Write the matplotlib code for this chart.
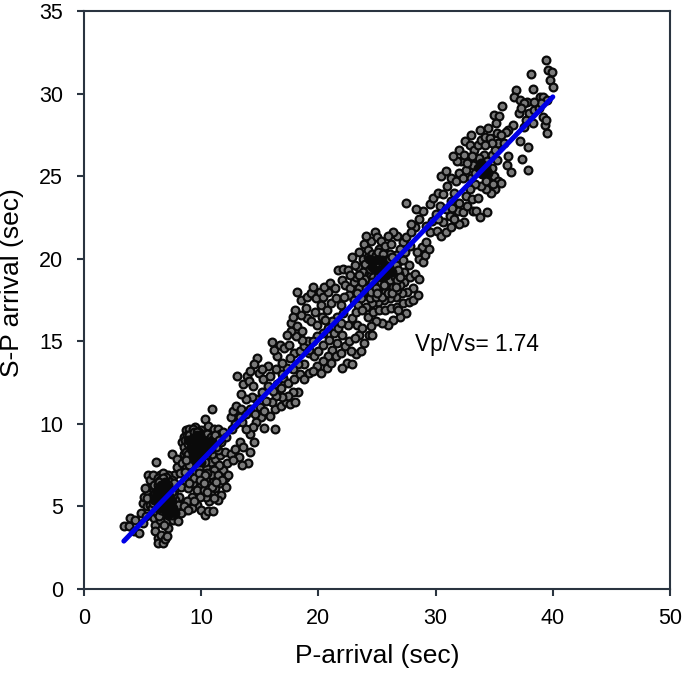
import numpy as np
import matplotlib
matplotlib.use("Agg")
import matplotlib.pyplot as plt

plt.rcParams['font.family'] = ['Liberation Sans', 'DejaVu Sans']

# points, (P-arrival, S-P arrival), split along the trend
points_a = [(3.4,3.8),(3.8,3.8),(3.9,4.3),(4.35,4.2),(4.3,3.5),(4.7,3.4),(4.9,4.6),(5.0,5.2),(5.1,5.6),(5.3,4.4),
    (5.0,4.0),(5.4,5.0),(5.5,5.9),(5.45,6.9),(5.7,6.2),(5.8,5.4),(5.9,4.8),(6.0,4.3),(6.1,3.9),(6.1,3.5),
    (6.3,3.1),(6.3,2.8),(6.6,3.3),(6.7,2.8),(6.9,3.0),(7.1,3.2),(7.2,3.7),(7.0,4.1),(6.6,4.5),(6.4,5.0),
    (6.2,5.5),(6.0,6.0),(6.1,6.5),(6.14,7.67),(6.5,6.9),(6.4,6.2),(6.6,5.8),(6.8,5.3),(7.0,4.9),(7.3,4.4),
    (7.6,4.2),(8.0,4.1),(7.9,4.9),(7.6,5.2),(7.3,5.7),(7.0,6.1),(6.8,6.6),(7.1,6.5),(7.4,6.3),(7.7,6.0),
    (8.1,5.6),(8.4,5.1),(8.6,4.8),(7.53,8.18),(7.9,7.85),(7.9,7.4),(7.7,6.9),(7.2,6.9),(5.6,5.1),(5.9,5.7),
    (6.3,5.8),(6.5,5.4),(6.2,6.1),(6.7,6.2),(6.9,5.7),(7.2,5.3),(6.4,5.6),(6.6,6.4),(6.0,5.1),(6.2,4.6),
    (6.5,4.2),(6.8,3.9),(5.2,6.1),(5.6,6.6),(5.9,6.9),(6.3,6.7),(6.7,7.0),(7.0,6.8),(7.5,6.6),(6.9,6.2),
    (7.2,6.0),(7.5,5.6),(7.8,5.4),(8.0,5.1),(8.3,4.6),(7.4,4.9),(6.9,4.6),(6.7,5.0),(6.4,4.4),(6.1,5.3),
    (5.7,5.6),(5.4,5.5),(6.6,6.0),(6.9,5.0),(7.1,5.6),(6.3,5.3),(6.5,6.6),(6.0,6.3),(7.3,5.0),(7.6,4.7)]

points_b = [(8.2,7.0),(8.4,7.6),(8.5,8.2),(8.4,8.9),(8.5,9.2),(8.7,9.6),(8.9,9.0),(9.0,9.7),(9.2,9.3),(9.3,8.7),
    (9.5,9.8),(9.7,9.4),(9.9,9.0),(10.0,9.6),(10.3,10.3),(10.95,10.88),(10.6,9.9),(10.9,9.5),(11.1,9.7),(11.4,9.7),
    (11.6,9.4),(11.9,9.5),(12.1,9.2),(11.7,8.9),(11.3,9.0),(11.0,8.8),(10.6,9.1),(10.2,8.9),(9.8,8.6),(9.4,8.3),
    (9.0,8.4),(8.8,8.0),(9.1,7.8),(9.5,7.6),(9.9,7.9),(10.3,8.3),(10.7,8.4),(9.6,9.0),(9.2,8.9),(8.8,8.6),
    (9.3,9.7),(9.9,8.3),(10.1,8.7),(10.5,8.7),(9.7,8.1),(9.1,8.2),(8.7,7.3),(9.4,7.1),(9.0,6.9),(8.6,6.6),
    (8.3,6.2),(8.9,6.1),(9.3,6.4),(9.7,6.7),(10.0,7.1),(10.4,7.4),(10.8,7.7),(11.2,7.9),(11.6,8.1),(12.0,8.3),
    (12.2,7.6),(11.9,7.2),(11.5,7.5),(11.1,7.2),(10.8,6.9),(10.4,6.6),(10.0,6.3),(9.6,6.0),(9.2,5.6),(8.8,5.3),
    (8.5,5.0),(9.6,5.1),(10.0,4.8),(10.3,4.5),(10.6,4.7),(11.0,4.7),(10.7,5.3),(10.4,5.6),(10.8,5.9),(11.2,6.1),
    (11.6,6.4),(12.0,6.7),(12.3,6.9),(11.7,5.7),(11.4,5.4),(11.1,5.5),(9.2,4.9),(9.9,5.6),(10.2,6.0),(11.0,6.5),
    (10.5,7.0),(11.4,6.9),(11.8,6.6),(12.1,6.2),(9.4,5.3),(8.9,4.8),(10.1,7.6),(9.8,7.3),(10.9,8.2),(11.4,8.4)]

points_c = [(12.5,8.2),(12.9,8.5),(13.3,8.9),(13.6,8.6),(14.0,7.65),(13.5,7.5),(13.2,8.0),(12.7,7.8),(14.2,8.3),(14.5,8.9),
    (15.4,9.75),(16.3,9.7),(15.1,10.4),(14.7,10.1),(14.4,9.8),(14.2,9.4),(13.8,9.7),(13.5,10.1),(13.3,10.4),(12.9,10.0),
    (12.6,9.7),(12.5,10.4),(12.7,10.8),(13.0,11.1),(13.4,10.9),(13.8,10.6),(14.2,10.9),(14.6,10.6),(15.0,11.0),(15.4,10.8),
    (15.9,10.5),(16.3,10.9),(16.8,11.1),(17.2,11.3),(17.6,11.2),(18.0,11.3),(18.3,11.9),(17.8,11.9),(17.4,11.7),(16.9,11.6),
    (16.4,11.7),(16.0,11.3),(15.5,11.4),(15.2,11.9),(14.7,11.5),(14.3,11.6),(13.8,11.5),(13.4,11.8),(13.03,12.9),(13.6,12.4),
    (13.9,12.9),(14.1,12.6),(14.4,12.3),(14.73,13.97),(14.5,13.6),(14.2,13.2),(14.9,13.1),(15.3,12.7),(15.7,12.3),(16.1,12.0),
    (16.5,12.4),(17.0,12.8),(17.4,12.5),(17.9,12.7),(18.4,13.0),(18.8,12.7),(19.2,13.1),(18.8,13.6),(18.3,13.6),(17.8,13.3),
    (17.3,13.4),(16.9,13.7),(16.5,14.1),(16.2,14.5),(16.0,14.96),(16.7,14.8),(17.1,14.6),(17.5,14.8),(17.9,14.3),(18.4,14.4),
    (18.8,14.7),(19.2,14.3),(19.1,15.0),(18.6,15.1),(18.1,15.3),(17.7,15.6),(17.3,15.4),(17.7,16.1),(18.2,15.9),(18.6,15.6),
    (16.9,13.0),(16.4,13.3),(15.7,13.5),(15.2,13.3),(19.0,16.4),(18.5,16.6),(18.0,16.9),(17.8,16.5),(16.8,12.2),(15.9,12.9)]

points_d = [(18.9,17.0),(18.5,17.5),(19.0,17.7),(19.4,17.9),(19.8,17.6),(20.1,18.0),(20.4,17.7),(20.8,18.0),(20.2,17.2),(19.7,16.8),
    (19.4,16.2),(19.9,16.0),(20.3,16.5),(20.7,16.9),(21.1,17.3),(21.5,17.6),(21.9,17.2),(22.1,16.7),(21.6,16.5),(21.2,16.2),
    (20.8,15.8),(20.4,15.5),(19.9,15.3),(19.5,15.0),(19.2,14.5),(19.6,14.1),(20.0,14.4),(20.4,14.8),(20.9,15.1),(21.3,15.5),
    (21.7,15.8),(22.0,15.4),(21.6,14.9),(21.2,14.5),(20.8,14.1),(20.4,13.8),(19.9,13.5),(19.5,13.2),(20.2,13.1),(20.7,13.4),
    (21.1,13.7),(21.5,14.1),(21.9,14.3),(22.3,14.7),(22.6,15.0),(22.4,13.7),(22.0,13.4),(22.9,13.6),(23.2,14.2),(23.6,14.4),
    (23.9,14.9),(24.3,15.4),(24.6,15.4),(23.5,15.4),(23.1,15.2),(22.8,14.4),(22.5,16.0),(22.9,16.4),(23.3,16.0),(23.7,15.8),
    (22.0,18.7),(21.7,19.3),(22.1,19.4),(22.5,19.3),(22.3,18.4),(22.7,18.2),(23.0,18.6),(22.6,17.8),(22.2,17.7),(23.0,17.5),
    (23.4,17.2),(23.2,16.8),(20.5,18.3),(21.0,18.5),(21.4,18.2),(18.2,18.0),(19.5,18.3),(17.6,14.0),(20.6,16.3),(21.9,16.1)]

points_e = [(23.4,19.5),(23.8,20.0),(23.5,20.4),(23.9,20.9),(24.2,20.5),(24.5,21.1),(24.8,21.6),(25.0,21.3),(25.3,21.1),(25.2,20.6),
    (25.7,20.8),(26.2,20.9),(26.7,21.4),(27.2,21.0),(27.5,21.3),(28.2,21.9),(27.8,20.8),(27.4,20.4),(27.0,20.6),(26.6,20.2),
    (26.1,20.3),(25.6,20.1),(25.1,19.9),(24.6,19.8),(24.2,19.6),(23.8,19.2),(24.3,19.1),(24.8,19.3),(25.3,19.4),(25.8,19.6),
    (26.3,19.7),(26.8,19.8),(27.2,19.9),(27.7,19.6),(27.3,19.2),(26.9,19.1),(26.4,19.0),(25.9,18.9),(25.4,18.8),(24.9,18.7),
    (24.4,18.5),(23.9,18.4),(23.5,18.2),(23.8,17.8),(24.3,17.9),(24.8,18.1),(25.3,18.3),(25.8,18.2),(26.3,18.4),(26.8,18.5),
    (27.3,18.6),(27.8,18.9),(28.2,19.1),(28.6,18.8),(28.1,18.2),(27.6,18.0),(27.1,17.9),(26.6,17.7),(26.1,17.6),(25.6,17.5),
    (25.1,17.4),(24.6,17.3),(24.1,17.1),(23.7,16.9),(24.2,16.5),(24.7,16.8),(25.2,16.9),(25.7,16.9),(26.2,17.0),(26.7,17.1),
    (27.2,17.3),(27.7,17.4),(28.1,17.5),(27.5,16.7),(27.0,16.5),(26.4,16.3),(25.9,16.0),(25.4,16.1),(24.9,16.2),(24.5,15.9),
    (26.8,16.9),(28.5,17.8),(24.0,18.8),(24.5,19.0),(25.0,19.0),(25.5,18.6),(26.0,18.5),(26.5,18.5),(25.2,18.0),(25.7,18.0),
    (26.2,18.0),(26.7,18.1),(24.7,18.4),(25.4,19.2),(25.9,19.3),(26.5,19.4),(27.0,18.4),(24.4,17.6),(24.9,17.7),(25.4,17.7)]

points_f = [(28.8,20.7),(29.2,21.0),(29.5,21.6),(29.2,22.0),(28.6,22.4),(28.9,22.9),(27.5,23.4),(28.3,23.0),(29.5,23.3),(29.8,23.7),
    (30.2,24.0),(30.6,23.9),(30.4,23.2),(30.0,22.7),(29.7,22.3),(30.1,21.7),(30.5,21.4),(30.9,21.6),(31.3,21.9),(31.2,22.6),
    (30.9,23.0),(31.3,23.5),(31.6,24.0),(31.0,24.4),(30.5,25.0),(30.9,25.3),(31.3,24.9),(31.7,24.7),(32.0,25.2),(32.3,24.9),
    (32.6,25.4),(32.2,25.9),(31.8,25.9),(31.5,26.2),(32.0,26.6),(32.4,26.3),(32.5,27.1),(32.9,26.9),(33.0,27.5),(33.3,26.6),
    (33.6,26.9),(33.9,27.2),(34.2,27.4),(33.8,27.8),(34.5,27.9),(34.1,26.3),(33.7,26.1),(33.2,25.7),(33.6,25.5),(34.0,25.7),
    (34.4,25.9),(34.8,26.3),(35.1,26.6),(35.2,26.0),(34.8,25.5),(34.4,25.3),(34.0,25.1),(34.5,24.8),(35.0,25.0),(35.3,24.7),
    (35.6,24.6),(35.1,24.2),(34.7,24.0),(34.3,24.2),(33.9,24.4),(33.4,24.5),(32.9,24.2),(32.6,23.8),(33.1,23.6),(33.6,23.7),
    (32.0,23.4),(31.9,22.9),(32.3,22.8),(32.7,23.2),(33.2,22.9),(33.45,22.9),(33.8,22.55),(34.36,22.85),(32.4,22.2),(32.0,22.1),
    (31.6,22.4),(30.6,22.2),(33.0,24.9),(33.4,25.2),(31.4,23.1),(30.2,22.4),(34.3,24.7),(34.9,24.5),(33.1,26.2),(32.7,25.8)]

points_g = [(39.4,32.04),(38.1,31.2),(39.6,31.4),(39.9,31.3),(39.75,30.8),(40.0,30.4),(38.35,30.3),(36.9,30.2),(36.7,29.8),(37.2,29.6),
    (37.8,29.5),(37.5,29.4),(35.64,29.25),(37.1,28.8),(35.0,28.7),(35.4,28.65),(35.15,28.2),(36.6,28.1),(36.2,27.8),(36.0,27.7),
    (38.3,28.2),(39.3,28.1),(39.5,27.6),(37.2,27.1),(37.9,26.75),(36.15,26.2),(37.4,26.05),(36.05,25.7),(36.4,25.25),(37.9,25.35),
    (38.9,29.8),(39.2,29.8),(39.5,29.6),(39.2,28.6),(39.4,28.4),(37.7,28.4),(38.0,28.8),(38.4,29.0),(38.8,29.1),(39.0,29.4),
    (38.4,29.5),(37.3,29.1),(37.5,28.0),(34.6,27.3),(35.2,27.6),(35.6,27.5),(35.3,27.0),(35.8,27.0),(34.8,27.0),(34.2,26.9)]

# extra circles in the crowded parts
blob_low = [(5.8,4.9),(6.0,5.6),(6.2,5.0),(6.3,6.3),(6.5,5.1),(6.5,5.9),(6.7,5.5),(6.7,6.7),(6.8,4.7),(6.9,6.0),
    (7.0,5.3),(7.0,6.4),(7.1,4.6),(7.2,5.8),(7.3,6.5),(7.4,5.4),(7.4,6.0),(7.5,4.5),(7.6,5.7),(7.7,6.4),
    (6.1,5.8),(6.3,4.9),(6.4,6.5),(6.6,5.2),(6.8,5.9),(6.9,5.5),(7.1,5.1),(7.2,6.3),(7.3,4.7),(7.5,5.9),
    (5.9,5.2),(6.2,5.8),(6.4,5.2),(6.6,4.8),(6.7,5.7),(6.8,6.3),(7.0,5.7),(7.1,6.2),(7.2,4.9),(7.4,5.2)]

blob_mid = [(8.5,8.6),(8.6,9.0),(8.7,8.3),(8.8,9.3),(8.9,8.2),(9.0,8.8),(9.0,9.3),(9.1,9.0),(9.2,8.5),(9.3,9.1),
    (9.3,8.0),(9.4,8.8),(9.4,9.5),(9.5,8.4),(9.5,9.2),(9.6,8.7),(9.6,8.0),(9.7,9.2),(9.7,8.4),(9.8,8.9),
    (9.8,9.5),(9.9,8.6),(9.9,8.0),(10.0,9.2),(10.0,8.4),(10.1,8.9),(10.2,8.2),(10.2,9.3),(10.3,8.7),(10.4,9.0),
    (10.4,8.1),(10.5,9.4),(10.6,8.5),(10.7,8.9),(10.8,9.2),(10.9,8.6),(11.0,9.1),(11.2,9.3),(11.3,8.6),(11.5,9.0),
    (8.9,8.8),(9.1,8.6),(9.2,7.6),(9.5,7.9),(9.6,9.5),(9.0,7.5),(8.7,7.8),(8.6,7.1),(10.1,7.9),(10.3,7.7),
    (9.4,6.7),(9.0,6.4),(9.8,7.0),(10.3,6.9),(10.6,6.3),(9.9,6.6),(10.2,6.4),(10.9,6.2),(11.3,6.5),(10.5,5.9)]

blob_upper = [(24.0,19.7),(24.2,20.1),(24.4,19.4),(24.6,20.3),(24.7,18.9),(24.8,19.7),(24.9,20.2),(25.0,19.4),(25.1,20.4),(25.1,18.9),
    (25.2,19.7),(25.3,20.0),(25.4,19.0),(25.5,19.6),(25.5,20.3),(25.6,18.9),(25.7,19.3),(25.8,19.9),(25.9,18.6),(26.0,19.2),
    (26.0,19.9),(26.1,18.7),(26.2,19.4),(26.3,20.1),(26.4,18.3),(26.5,18.9),(26.6,19.6),(26.7,18.7),(26.8,19.3),(27.0,18.9),
    (24.1,18.2),(24.5,18.0),(24.6,18.6),(24.9,18.2),(25.0,17.9),(25.3,18.6),(25.6,18.4),(25.9,17.9),(26.3,17.9),(26.6,18.3),
    (23.2,18.9),(23.5,19.0),(23.7,18.6),(23.3,17.9),(23.6,17.6),(23.1,19.6),(22.7,19.0),(22.9,20.1),(24.1,21.4),(27.9,21.6),
    (26.4,21.6),(25.9,21.4),(28.6,20.0),(28.9,19.8),(28.4,20.4),(27.9,22.1),(29.1,20.2),(29.4,20.6)]

# parts of the cloud so crowded that they read as solid black
core_low = [(6.0,5.4),(6.2,5.9),(6.3,5.2),(6.4,6.1),(6.5,5.6),(6.6,6.3),(6.6,4.9),(6.7,5.9),(6.8,5.2),(6.9,6.5),
    (7.0,5.9),(7.0,4.7),(7.1,5.4),(7.2,6.1),(7.2,4.5),(7.3,5.6),(7.4,4.9),(7.5,5.3),(7.6,4.9),(7.8,4.6),(6.4,5.4),(6.8,5.6)]

core_mid = [(8.9,9.0),(9.1,8.5),(9.2,9.1),(9.3,8.2),(9.4,9.0),(9.5,8.6),(9.6,9.3),(9.7,8.2),(9.8,8.8),(9.9,9.3),
    (10.0,8.6),(10.1,8.1),(10.2,9.0),(10.3,8.4),(10.4,8.9),(10.5,8.3),(10.6,8.8),(10.8,8.5),(10.9,8.9),(9.4,7.9),(9.7,7.7),(10.0,7.7)]

core_upper = [(24.3,20.0),(24.6,19.5),(24.9,19.9),(25.2,19.3),(25.4,19.9),(25.7,19.6),(25.8,19.0),(26.0,19.5),(26.3,19.2),(25.3,18.9)]

core_top = [(33.7,25.5),(33.9,25.8),(34.1,25.4),(34.3,25.6),(34.5,25.2),(34.0,25.2)]

# fit line ends
fit_x = [3.4, 40.0]
fit_y = [2.9, 29.8]

x_ticks = [0, 10, 20, 30, 40, 50]
y_ticks = [0, 5, 10, 15, 20, 25, 30, 35]
ink = '#2a3440'

pts = np.array(points_a + points_b + points_c + points_d + points_e + points_f + points_g
               + blob_low + blob_mid + blob_upper)
core = np.array(core_low + core_mid + core_upper + core_top)

fig = plt.figure(figsize=(6.85, 6.76), dpi=100)
ax = fig.add_axes([84/685, 1 - 589/676, (670-84)/685, (589-11)/676])

ax.plot(pts[:, 0], pts[:, 1], 'o', ms=5.6, mfc='#7a7a7a', mec='#0a0a0a', mew=1.6, zorder=2)
ax.plot(core[:, 0], core[:, 1], 'o', ms=5.6, mfc='#0a0a0a', mec='#0a0a0a', mew=1.6, zorder=2)
ax.plot(fit_x, fit_y, color='#0000e6', lw=3.6, solid_capstyle='round', zorder=3)

ax.set_xlim(0, 50)
ax.set_ylim(0, 35)
ax.set_xticks(x_ticks)
ax.set_yticks(y_ticks)
ax.tick_params(direction='out', length=5, width=1.5, color=ink, labelsize=15.5)
ax.tick_params(axis='x', pad=9)
ax.tick_params(axis='y', pad=10)
for s in ax.spines.values():
    s.set_linewidth(1.5)
    s.set_color(ink)

ax.set_xlabel('P-arrival (sec)', fontsize=19)
ax.set_ylabel('S-P arrival (sec)', fontsize=19)
ax.xaxis.set_label_coords(0.5, -0.096)
ax.yaxis.set_label_coords(-0.102, 0.531)
ax.text(28.2, 14.8, 'Vp/Vs= 1.74', fontsize=16.3, va='center')

fig.savefig('out.png', dpi=100)
